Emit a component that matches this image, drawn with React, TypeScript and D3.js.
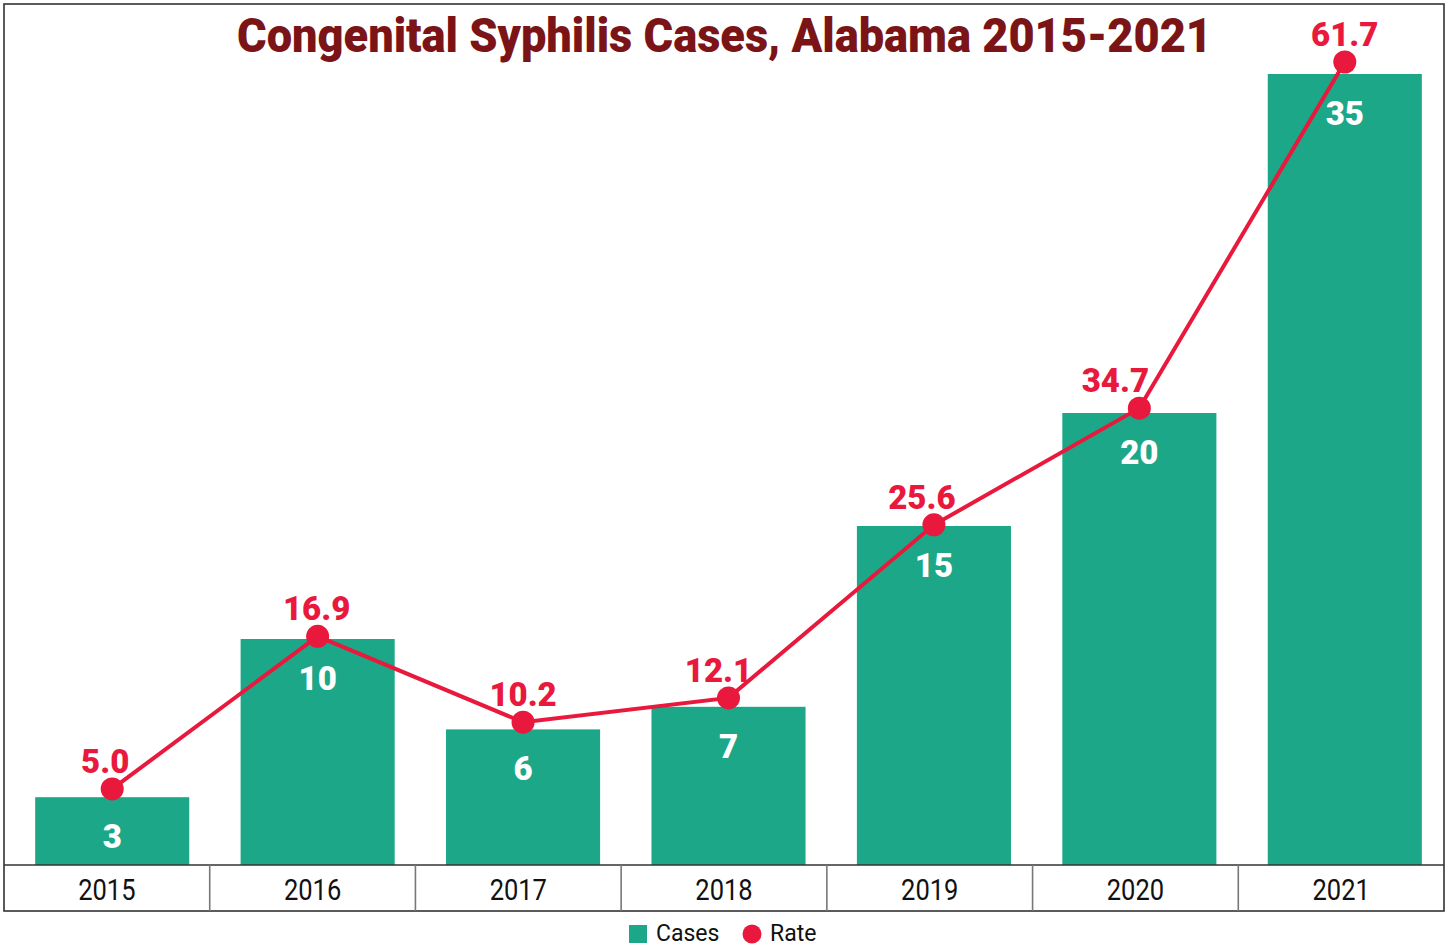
import React from "react";
import * as d3 from "d3";

const years = ["2015", "2016", "2017", "2018", "2019", "2020", "2021"];
const cases = [3, 10, 6, 7, 15, 20, 35];
const rates = [5.0, 16.9, 10.2, 12.1, 25.6, 34.7, 61.7];
const rateLabelDx = [-7, -1, 0, -10, -12, -24, 0];

const W = 1450;
const H = 947;
const frame = { left: 4, right: 1444, top: 4, bottom: 911 };
const baseY = 865;

const BAR = "#1ca788";
const RED = "#e8193c";
const TITLE = "#7b1416";

export default function App() {
  const xCell = d3.scaleBand().domain(years).range([frame.left, frame.right]).padding(0);
  const xBar = d3
    .scaleBand()
    .domain(years)
    .range([9.5, 1447.5])
    .paddingInner(0.25)
    .paddingOuter(0.125);
  const yCases = d3.scaleLinear().domain([0, 35]).range([baseY, 74]);
  const yRate = d3.scaleLinear().domain([0, 61.7]).range([853, 62]);

  const cx = (y: string) => (xBar(y) as number) + xBar.bandwidth() / 2;
  const line = d3
    .line<number>()
    .x((_, i) => cx(years[i]))
    .y((d) => yRate(d));

  return (
    <div style={{ position: "absolute", left: 0, top: 0 }}>
      <svg width={W} height={H} style={{ display: "block", background: "#fff" }}>
        <rect x={0} y={0} width={W} height={H} fill="#fff" />
        {/* frame */}
        <rect
          x={frame.left}
          y={frame.top}
          width={frame.right - frame.left}
          height={frame.bottom - frame.top}
          fill="none"
          stroke="#333"
          strokeWidth={1.6}
        />
        {/* title */}
        <text
          x={724.5}
          y={52}
          textAnchor="middle"
          fill={TITLE}
          fontFamily="Roboto, sans-serif"
          fontWeight={900}
          fontSize={48}
          textLength={975}
          lengthAdjust="spacingAndGlyphs"
        >
          Congenital Syphilis Cases, Alabama 2015-2021
        </text>
        {/* bars */}
        {years.map((y, i) => (
          <g key={y}>
            <rect
              x={xBar(y)}
              y={yCases(cases[i])}
              width={xBar.bandwidth()}
              height={baseY - yCases(cases[i])}
              fill={BAR}
            />
            <text
              x={cx(y)}
              y={yCases(cases[i]) + 51}
              textAnchor="middle"
              fill="#fff"
              fontFamily="Roboto, sans-serif"
              fontWeight={900}
              fontSize={33}
            >
              {cases[i]}
            </text>
          </g>
        ))}
        {/* table */}
        <line x1={frame.left} x2={frame.right} y1={baseY} y2={baseY} stroke="#333" strokeWidth={1.6} />
        {years.slice(1).map((y) => (
          <line
            key={y}
            x1={xCell(y)}
            x2={xCell(y)}
            y1={baseY}
            y2={frame.bottom}
            stroke="#777"
            strokeWidth={1.6}
          />
        ))}
        {years.map((y) => {
          const x = (xCell(y) as number) + xCell.bandwidth() / 2;
          return (
            <text
              key={y}
              transform={`translate(${x},900) scale(0.85,1)`}
              textAnchor="middle"
              fill="#111"
              fontFamily="Roboto, sans-serif"
              fontSize={30}
            >
              {y}
            </text>
          );
        })}
        {/* rate line */}
        <path d={line(rates) || ""} fill="none" stroke={RED} strokeWidth={4} />
        {rates.map((r, i) => (
          <g key={i}>
            <circle cx={cx(years[i])} cy={yRate(r)} r={11.5} fill={RED} />
            <text
              x={cx(years[i]) + rateLabelDx[i]}
              y={yRate(r) - 16}
              textAnchor="middle"
              fill={RED}
              fontFamily="Roboto, sans-serif"
              fontWeight={900}
              fontSize={33}
            >
              {r.toFixed(1)}
            </text>
          </g>
        ))}
        {/* legend */}
        <rect x={629} y={925} width={18} height={18} fill={BAR} />
        <text x={656} y={941} fontFamily="Roboto, sans-serif" fontSize={23} fill="#111">
          Cases
        </text>
        <circle cx={752} cy={934} r={9.5} fill={RED} />
        <text x={770} y={941} fontFamily="Roboto, sans-serif" fontSize={23} fill="#111">
          Rate
        </text>
      </svg>
    </div>
  );
}
